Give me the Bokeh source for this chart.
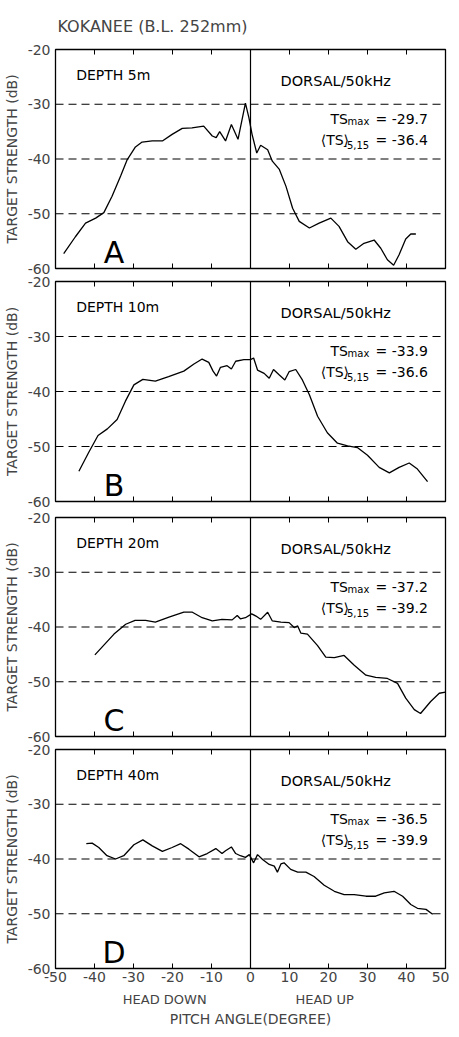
import math
from bokeh.plotting import figure
from bokeh.layouts import column
from bokeh.models import Span, FixedTicker, LinearAxis, Range1d
from bokeh.core.properties import value
from bokeh.embed import file_html
from bokeh.resources import INLINE

FONT = "DejaVu Sans"

# ---------------- data ----------------
pitch_a = [-47.9, -44.9, -42.3, -39.7, -37.6, -35.5, -33.3, -31.6, -29.5, -27.8, -25.2, -22.6,
           -20.1, -17.5, -15.0, -12.0, -9.8, -8.8, -7.9, -6.4, -4.9, -3.2, -1.3, -0.4, 0.4,
           1.6, 2.6, 4.4, 5.6, 7.4, 9.1, 10.8, 12.5, 15.1, 17.6, 20.6, 22.7, 24.9, 27.0, 29.1,
           31.7, 33.4, 35.1, 36.7, 38.1, 39.8, 41.1, 42.4]
ts_a = [-57.3, -54.2, -51.7, -50.8, -49.8, -46.8, -43.1, -40.1, -37.8, -36.9, -36.7, -36.7,
        -35.5, -34.4, -34.3, -34.0, -35.8, -36.1, -35.0, -36.7, -33.7, -36.4, -29.8, -32.5, -35.5,
        -38.9, -37.5, -38.3, -40.4, -41.9, -45.0, -49.0, -51.4, -52.6, -51.7, -50.8, -52.3, -55.1,
        -56.5, -55.4, -54.8, -56.3, -58.4, -59.4, -57.5, -54.6, -53.7, -53.7]

pitch_b = [-44.0, -41.5, -39.1, -36.7, -34.2, -32.1, -29.9, -27.6, -24.4, -21.0, -17.1, -14.5,
           -12.4, -10.7, -9.6, -8.7, -7.7, -6.0, -4.9, -3.8, -1.7, 0.0, 0.8, 1.8, 3.5, 4.8, 5.9,
           7.4, 8.8, 9.9, 11.6, 13.3, 15.1, 17.2, 19.7, 22.3, 24.9, 27.4, 30.0, 33.0, 35.6, 38.1,
           40.7, 42.8, 45.4]
ts_b = [-54.5, -51.1, -48.0, -46.8, -45.1, -41.8, -38.8, -37.8, -38.1, -37.3, -36.3, -35.0,
        -34.1, -34.7, -36.3, -37.2, -35.6, -35.3, -35.9, -34.5, -34.2, -34.2, -33.9, -36.1, -36.7,
        -37.6, -36.0, -37.0, -37.9, -36.4, -36.0, -37.9, -40.6, -44.5, -47.5, -49.4, -49.9, -50.2,
        -51.6, -53.8, -54.8, -53.8, -53.0, -54.1, -56.4]

pitch_c = [-39.9, -37.6, -35.0, -32.0, -29.6, -26.9, -24.4, -20.9, -17.1, -14.9, -12.4, -9.8,
           -7.3, -4.7, -3.4, -2.6, -1.3, 0.3, 1.4, 2.6, 4.4, 5.6, 7.8, 9.9, 11.2, 12.1, 12.9, 14.6,
           17.2, 19.3, 21.5, 24.0, 26.6, 29.6, 32.1, 35.1, 37.7, 39.8, 42.0, 43.6, 46.2, 48.4, 50.0]
ts_c = [-45.1, -43.3, -41.3, -39.5, -38.8, -38.8, -39.1, -38.2, -37.3, -37.3, -38.3, -38.9,
        -38.6, -38.7, -37.9, -38.5, -38.3, -37.6, -38.0, -38.6, -37.3, -38.9, -39.1, -39.2, -40.1,
        -39.8, -41.1, -41.3, -43.4, -45.5, -45.6, -45.2, -47.0, -48.8, -49.2, -49.4, -50.3, -53.0,
        -55.1, -55.8, -53.6, -52.1, -51.9]

pitch_d = [-42.1, -40.6, -38.9, -36.8, -34.6, -32.5, -29.9, -27.6, -25.2, -22.6, -20.1, -17.9,
           -15.8, -13.2, -11.1, -8.9, -7.3, -6.4, -4.9, -3.8, -2.6, -1.3, -0.3, 0.8, 1.8, 3.1,
           4.8, 6.1, 6.9, 7.8, 8.6, 10.3, 12.1, 14.2, 16.3, 18.9, 21.5, 24.0, 26.6, 29.6, 32.1,
           34.3, 36.8, 39.0, 41.1, 42.8, 45.0, 46.7]
ts_d = [-37.2, -37.1, -37.9, -39.4, -40.0, -39.4, -37.4, -36.5, -37.6, -38.6, -37.9, -37.2,
        -38.2, -39.6, -39.0, -38.1, -39.0, -38.5, -37.8, -39.0, -39.4, -39.7, -39.2, -40.7, -39.2,
        -40.1, -41.0, -41.3, -42.4, -40.9, -40.7, -41.9, -42.4, -42.4, -43.2, -44.8, -45.9, -46.5,
        -46.5, -46.8, -46.8, -46.2, -45.9, -46.8, -48.3, -49.0, -49.2, -50.1]

chart_title = "KOKANEE  (B.L. 252mm)"
depth_labels = ["DEPTH  5m", "DEPTH 10m", "DEPTH 20m", "DEPTH 40m"]
panel_letters = ["A", "B", "C", "D"]
ts_max_values = ["-29.7", "-33.9", "-37.2", "-36.5"]
ts_mean_values = ["-36.4", "-36.6", "-39.2", "-39.9"]
x_ticks = [-50, -40, -30, -20, -10, 0, 10, 20, 30, 40, 50]
y_ticks = [-60, -50, -40, -30, -20]
dashed_levels = [-30, -40, -50]
X_MIN, X_MAX = -50, 50
Y_MIN, Y_MAX = -60, -20

series = [(pitch_a, ts_a), (pitch_b, ts_b), (pitch_c, ts_c), (pitch_d, ts_d)]

frame_heights = [219, 220, 219, 219]
top_borders = [42, 6, 8, 6]
bottom_borders = [7, 8, 7, 0]


def make_panel(i):
    pitch, ts = series[i]
    kw = {}
    if i == 0:
        kw["title"] = chart_title
    p = figure(frame_width=390, frame_height=frame_heights[i],
               x_range=Range1d(X_MIN, X_MAX), y_range=Range1d(Y_MIN, Y_MAX),
               x_axis_type=None, y_axis_type=None, toolbar_location=None,
               output_backend="svg", min_border=0,
               min_border_left=50, min_border_right=4,
               min_border_top=top_borders[i], min_border_bottom=bottom_borders[i],
               outline_line_color="black", outline_line_width=1.3, outline_line_alpha=1.0,
               background_fill_color="white", border_fill_color="white", **kw)
    if i == 0:
        p.title.text_font = FONT
        p.title.text_font_size = "16px"
        p.title.text_font_style = "normal"
        p.title.align = "left"
        p.title.offset = 2
        p.title.standoff = 28

    yax = LinearAxis(ticker=FixedTicker(ticks=y_ticks),
                     major_label_overrides={t: str(t) for t in y_ticks},
                     major_tick_in=0, major_tick_out=0, minor_tick_in=0, minor_tick_out=0,
                     axis_line_color=None, major_label_standoff=5,
                     major_label_text_font=FONT, major_label_text_font_size="14px",
                     axis_label="TARGET STRENGTH (dB)", axis_label_text_font=FONT,
                     axis_label_text_font_size="14px", axis_label_text_font_style="normal",
                     axis_label_standoff=5)
    p.add_layout(yax, "left")

    if i == 3:
        xax = LinearAxis(ticker=FixedTicker(ticks=x_ticks),
                         major_label_overrides={t: str(t) for t in x_ticks},
                         major_tick_in=0, major_tick_out=0, minor_tick_in=0, minor_tick_out=0,
                         axis_line_color=None, major_label_standoff=3,
                         major_label_text_font=FONT, major_label_text_font_size="14px")
        p.add_layout(xax, "below")
        hax = LinearAxis(ticker=FixedTicker(ticks=[-22, 19]),
                         major_label_overrides={-22: "HEAD DOWN", 19: "HEAD UP"},
                         major_tick_in=0, major_tick_out=0, minor_tick_in=0, minor_tick_out=0,
                         axis_line_color=None, major_label_standoff=7,
                         major_label_text_font=FONT, major_label_text_font_size="13px",
                         axis_label="PITCH ANGLE(DEGREE)", axis_label_text_font=FONT,
                         axis_label_text_font_size="14px", axis_label_text_font_style="normal",
                         axis_label_standoff=1)
        p.add_layout(hax, "below")

    # inward tick marks on the top and bottom frame edges
    for edge in (Y_MIN, Y_MAX):
        p.scatter(x=x_ticks, y=[edge] * len(x_ticks), marker="dash", angle=math.pi / 2,
                  size=10, line_color="black", line_width=1)

    for lv in dashed_levels:
        p.add_layout(Span(location=lv, dimension="width", line_color="black",
                          line_width=1.2, line_dash="8 5"))
    p.add_layout(Span(location=0, dimension="height", line_color="black", line_width=1.2))

    p.line(pitch, ts, line_color="black", line_width=1.3)

    tf = value(FONT)
    p.text(x=[-44.7], y=[-24.7], text=[depth_labels[i]], text_font=tf, text_font_size="14px",
           text_baseline="middle", text_align="left", text_color="black")
    p.text(x=[7.7], y=[-25.7], text=["DORSAL/50kHz"], text_font=tf, text_font_size="14.5px",
           text_baseline="middle", text_align="left", text_color="black")
    p.text(x=[20.5], y=[-32.7], text=["TS"], text_font=tf, text_font_size="14px",
           text_baseline="middle", text_align="left", text_color="black")
    p.text(x=[24.9], y=[-33.1], text=["max"], text_font=tf, text_font_size="10px",
           text_baseline="middle", text_align="left", text_color="black")
    p.text(x=[45.5], y=[-32.7], text=["= " + ts_max_values[i]], text_font=tf,
           text_font_size="14px", text_baseline="middle", text_align="right", text_color="black")
    p.text(x=[18.0], y=[-36.5], text=["\u27e8TS\u27e9"], text_font=tf, text_font_size="14px",
           text_baseline="middle", text_align="left", text_color="black")
    p.text(x=[23.8], y=[-37.4], text=["-5,15"], text_font=tf, text_font_size="10px",
           text_baseline="middle", text_align="left", text_color="black")
    p.text(x=[45.5], y=[-36.5], text=["= " + ts_mean_values[i]], text_font=tf,
           text_font_size="14px", text_baseline="middle", text_align="right", text_color="black")
    p.text(x=[-35], y=[-57], text=[panel_letters[i]], text_font=tf, text_font_size="30px",
           text_baseline="middle", text_align="center", text_color="black")
    return p


panels = [make_panel(i) for i in range(4)]
layout = column(*panels, spacing=0)
open("out.html", "w").write(file_html(layout, INLINE))
